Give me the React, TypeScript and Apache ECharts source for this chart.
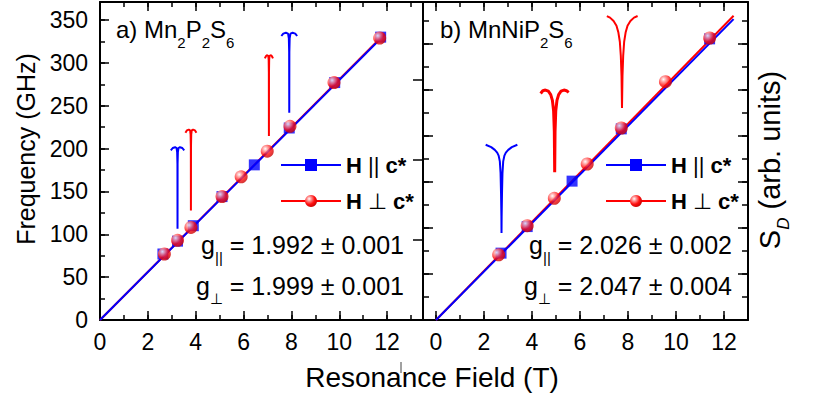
import React, { useEffect, useRef } from "react";
import * as echarts from "echarts";

const FONT = '"Liberation Sans", Arial, Helvetica, sans-serif';

// ---- tick labels ----
const fieldTickLabels = [0, 2, 4, 6, 8, 10, 12];
const freqTickLabels = [0, 50, 100, 150, 200, 250, 300, 350];

// ---- panel a) Mn2P2S6 : resonance field (T), frequency (GHz) ----
const aParField = [2.63, 3.24, 3.9, 5.1, 6.45, 7.91, 9.81, 11.73];
const aParFreq = [77, 92, 110, 144, 181, 224, 277, 330];
const aPerpField = [2.69, 3.24, 3.8, 5.1, 5.9, 6.99, 7.94, 9.78, 11.69];
const aPerpFreq = [77, 93, 108, 144, 167, 197, 226, 277, 329];
const aParFit = [[0, 0], [11.9, 333]];
const aPerpFit = [[0, 0], [11.9, 334]];

// ---- panel b) MnNiP2S6 ----
const bParField = [2.71, 3.8, 5.67, 7.72, 11.4];
const bParFreq = [78, 109, 162, 223, 328];
const bPerpField = [2.61, 3.8, 4.93, 6.3, 7.72, 9.56, 11.4];
const bPerpFreq = [76, 110, 142, 182, 224, 278, 329];
const bParFit = [[0, 0], [12.4, 351]];
const bPerpFit = [[0, 0], [12.4, 355]];

// ---- ESR spectra (field T, S_D arb. units) ----
const specA1Blue = [[2.96, 2.12], [3.04, 2.15], [3.14, 2.16], [3.2, 2.15], [3.225, 2.1], [3.237, 1.95], [3.24, 1.14], [3.243, 1.95], [3.255, 2.1], [3.28, 2.15], [3.34, 2.16], [3.44, 2.15], [3.52, 2.12]];
const specA1Red = [[3.57, 2.34], [3.63, 2.37], [3.71, 2.38], [3.765, 2.37], [3.787, 2.32], [3.797, 2.17], [3.8, 1.37], [3.803, 2.17], [3.813, 2.32], [3.835, 2.37], [3.89, 2.38], [3.97, 2.37], [4.03, 2.34]];
const specA2Red = [[6.89, 3.27], [6.94, 3.3], [6.99, 3.31], [7.035, 3.3], [7.05, 3.25], [7.057, 3.1], [7.06, 2.3], [7.063, 3.1], [7.07, 3.25], [7.085, 3.3], [7.13, 3.31], [7.18, 3.3], [7.23, 3.27]];
const specA2Blue = [[7.58, 3.55], [7.66, 3.58], [7.77, 3.59], [7.86, 3.58], [7.893, 3.52], [7.906, 3.35], [7.91, 2.59], [7.914, 3.35], [7.927, 3.52], [7.96, 3.58], [8.05, 3.59], [8.16, 3.58], [8.24, 3.55]];

const specB1Blue = [[2.07, 7.62], [2.3, 7.52], [2.45, 7.4], [2.55, 7.28], [2.61, 7.15], [2.66, 6.9], [2.69, 6.4], [2.71, 5.5], [2.725, 4.5], [2.73, 3.78], [2.735, 4.5], [2.75, 5.5], [2.77, 6.4], [2.8, 6.9], [2.85, 7.15], [2.91, 7.28], [3.01, 7.4], [3.16, 7.52], [3.39, 7.62]];
const specB2Red = [[4.36, 9.85], [4.45, 9.97], [4.56, 10.0], [4.68, 9.95], [4.78, 9.8], [4.85, 9.55], [4.9, 9.1], [4.93, 8.2], [4.945, 6.43], [4.96, 8.2], [4.99, 9.1], [5.04, 9.55], [5.11, 9.8], [5.21, 9.95], [5.33, 10.0], [5.44, 9.97], [5.53, 9.9]];
const specB3Red = [[7.12, 13.22], [7.25, 13.15], [7.4, 13.0], [7.52, 12.8], [7.6, 12.5], [7.66, 12.1], [7.7, 11.5], [7.73, 10.6], [7.75, 9.22], [7.77, 10.6], [7.8, 11.5], [7.84, 12.1], [7.9, 12.5], [7.98, 12.8], [8.1, 13.0], [8.25, 13.15], [8.4, 13.22]];

const BLUE = "#0000ff";
const RED = "#ff0000";
const redBall = {
  type: "radial", x: 0.35, y: 0.32, r: 0.75,
  colorStops: [
    { offset: 0, color: "#ffffff" },
    { offset: 0.25, color: "#ff9090" },
    { offset: 0.6, color: "#ff1010" },
    { offset: 1, color: "#c00000" },
  ],
};

const zip = (xs: number[], ys: number[]) => xs.map((x, i) => [x, ys[i]]);

function xAx(grid: number, pos: string, min: number, max: number, interval: number, len: number, labels: boolean, line: boolean) {
  return {
    type: "value", gridIndex: grid, position: pos, min, max, interval,
    axisLine: { show: line, onZero: false, lineStyle: { color: "#000", width: 2 } },
    axisTick: { show: true, inside: true, length: len, lineStyle: { color: "#000", width: 1.5 } },
    minorTick: { show: false }, splitLine: { show: false },
    axisLabel: labels
      ? { show: true, margin: 10, color: "#000", fontSize: 23, fontFamily: FONT,
          formatter: (v: number) => (fieldTickLabels.includes(v) ? String(v) : "") }
      : { show: false },
  };
}

function yAx(grid: number, pos: string, min: number, max: number, interval: number, len: number, labels: boolean, line: boolean, offset = 0, show = true) {
  return {
    type: "value", gridIndex: grid, position: pos, min, max, interval, offset, show,
    axisLine: { show: line, onZero: false, lineStyle: { color: "#000", width: 2 } },
    axisTick: { show: true, inside: true, length: len, lineStyle: { color: "#000", width: 1.5 } },
    minorTick: { show: false }, splitLine: { show: false },
    axisLabel: labels
      ? { show: true, margin: 12, color: "#000", fontSize: 23, fontFamily: FONT,
          formatter: (v: number) => (freqTickLabels.includes(v) ? String(v) : "") }
      : { show: false },
  };
}

const FREQ_MAX = 371;
const SD_A_MAX = 3.975;
const SD_B_MAX = 13.83;

const legendFormatter = (name: string) =>
  name.endsWith("∥") ? "{b|H} {n|||} {b|c*}" : "{b|H} {n|⊥} {b|c*}";
const legendText = {
  color: "#000", fontFamily: FONT, fontSize: 22, lineHeight: 24,
  rich: {
    b: { fontWeight: "bold", fontSize: 22, fontFamily: FONT, color: "#000", lineHeight: 24 },
    n: { fontSize: 22, fontFamily: FONT, color: "#000", lineHeight: 24 },
  },
};

const richMain = { fontSize: 24, fontFamily: FONT, lineHeight: 40, fill: "#000" };
const richSub = { fontSize: 15, fontFamily: FONT, lineHeight: 16, verticalAlign: "bottom", fill: "#000" };
const gMain = { fontSize: 25, fontFamily: FONT, lineHeight: 40, fill: "#000" };
const gSub = { fontSize: 15, fontFamily: FONT, lineHeight: 16, verticalAlign: "bottom", fill: "#000" };

function specSeries(data: number[][], color: string, xi: number, yi: number, width = 2) {
  return {
    type: "line", xAxisIndex: xi, yAxisIndex: yi, data, showSymbol: false, symbol: "none",
    lineStyle: { color, width }, silent: true, z: 2,
  };
}

const option = {
  animation: false,
  backgroundColor: "#ffffff",
  grid: [
    { left: 100, top: 2, width: 323, height: 318 },
    { left: 436, top: 2, width: 312, height: 318 },
  ],
  xAxis: [
    xAx(0, "bottom", 0, 13.5, 2, 9, true, true),
    xAx(0, "bottom", 0, 13.5, 1, 5, false, false),
    xAx(0, "top", 0, 13.5, 2, 9, false, true),
    xAx(0, "top", 0, 13.5, 1, 5, false, false),
    xAx(1, "bottom", 0, 13, 2, 9, true, true),
    xAx(1, "bottom", 0, 13, 1, 5, false, false),
    xAx(1, "top", 0, 13, 2, 9, false, true),
    xAx(1, "top", 0, 13, 1, 5, false, false),
  ],
  yAxis: [
    yAx(0, "left", 0, FREQ_MAX, 50, 9, true, true),
    yAx(0, "left", 0, FREQ_MAX, 25, 5, false, false),
    yAx(0, "right", 0, SD_A_MAX, 1, 10, false, true),
    yAx(1, "left", 0, FREQ_MAX, 50, 5, false, false, 0, false),
    yAx(1, "left", 0, SD_B_MAX, 2, 10, false, true, 13),
    yAx(1, "left", 0, SD_B_MAX, 1, 6, false, false, 13),
    yAx(1, "right", 0, SD_B_MAX, 2, 10, false, true),
    yAx(1, "right", 0, SD_B_MAX, 1, 6, false, false),
  ],
  legend: [
    {
      orient: "vertical", left: 280, top: 153, padding: 0, itemGap: 12,
      itemWidth: 60, itemHeight: 15, selectedMode: false,
      data: ["a∥", "a⊥"], formatter: legendFormatter, textStyle: legendText,
    },
    {
      orient: "vertical", left: 605, top: 153, padding: 0, itemGap: 12,
      itemWidth: 60, itemHeight: 15, selectedMode: false,
      data: ["b∥", "b⊥"], formatter: legendFormatter, textStyle: legendText,
    },
  ],
  series: [
    // panel a spectra
    specSeries(specA1Blue, BLUE, 0, 2),
    specSeries(specA1Red, RED, 0, 2),
    specSeries(specA2Red, RED, 0, 2),
    specSeries(specA2Blue, BLUE, 0, 2),
    // panel a fits
    { name: "a⊥", type: "line", xAxisIndex: 0, yAxisIndex: 0, data: aPerpFit, symbol: "circle", symbolSize: 12, showSymbol: false,
      itemStyle: { color: redBall }, lineStyle: { color: RED, width: 2 }, z: 3 },
    { name: "a∥", type: "line", xAxisIndex: 0, yAxisIndex: 0, data: aParFit, symbol: "rect", symbolSize: 12, showSymbol: false,
      itemStyle: { color: BLUE }, lineStyle: { color: BLUE, width: 2 }, z: 3 },
    // panel a points
    { name: "a∥ data", type: "scatter", xAxisIndex: 0, yAxisIndex: 0, data: zip(aParField, aParFreq), symbol: "rect", symbolSize: 11,
      itemStyle: { color: BLUE }, z: 4 },
    { name: "a⊥ data", type: "scatter", xAxisIndex: 0, yAxisIndex: 0, data: zip(aPerpField, aPerpFreq), symbol: "circle", symbolSize: 13,
      itemStyle: { color: redBall }, z: 4 },
    // panel b spectra
    specSeries(specB1Blue, BLUE, 4, 6),
    specSeries(specB2Red, RED, 4, 6, 3),
    specSeries(specB3Red, RED, 4, 6),
    // panel b fits
    { name: "b⊥", type: "line", xAxisIndex: 4, yAxisIndex: 3, data: bPerpFit, symbol: "circle", symbolSize: 12, showSymbol: false,
      itemStyle: { color: redBall }, lineStyle: { color: RED, width: 2 }, z: 3 },
    { name: "b∥", type: "line", xAxisIndex: 4, yAxisIndex: 3, data: bParFit, symbol: "rect", symbolSize: 12, showSymbol: false,
      itemStyle: { color: BLUE }, lineStyle: { color: BLUE, width: 2 }, z: 3 },
    // panel b points
    { name: "b∥ data", type: "scatter", xAxisIndex: 4, yAxisIndex: 3, data: zip(bParField, bParFreq), symbol: "rect", symbolSize: 11,
      itemStyle: { color: BLUE }, z: 4 },
    { name: "b⊥ data", type: "scatter", xAxisIndex: 4, yAxisIndex: 3, data: zip(bPerpField, bPerpFreq), symbol: "circle", symbolSize: 13,
      itemStyle: { color: redBall }, z: 4 },
  ],
  graphic: [
    // frame pieces between the panels' shared border and the right panel's x = 0
    { type: "line", shape: { x1: 422, y1: 2, x2: 437, y2: 2 }, style: { stroke: "#000", lineWidth: 2 }, silent: true },
    { type: "line", shape: { x1: 422, y1: 320, x2: 437, y2: 320 }, style: { stroke: "#000", lineWidth: 2 }, silent: true },
    // panel labels
    { type: "text", x: 116, y: 29.5, silent: true,
      style: { text: "{m|a) Mn}{s|2}{m|P}{s|2}{m|S}{s|6}", rich: { m: richMain, s: richSub }, align: "left", verticalAlign: "middle", fill: "#000" } },
    { type: "text", x: 440, y: 29.5, silent: true,
      style: { text: "{m|b) MnNiP}{s|2}{m|S}{s|6}", rich: { m: richMain, s: richSub }, align: "left", verticalAlign: "middle", fill: "#000" } },
    // g-factors
    { type: "text", x: 404, y: 244.5, silent: true,
      style: { text: "{m|g}{s|||}{m| = 1.992 ± 0.001}", rich: { m: gMain, s: gSub }, align: "right", verticalAlign: "middle", fill: "#000" } },
    { type: "text", x: 404, y: 286, silent: true,
      style: { text: "{m|g}{s|⊥}{m| = 1.999 ± 0.001}", rich: { m: gMain, s: gSub }, align: "right", verticalAlign: "middle", fill: "#000" } },
    { type: "text", x: 732, y: 244.5, silent: true,
      style: { text: "{m|g}{s|||}{m| = 2.026 ± 0.002}", rich: { m: gMain, s: gSub }, align: "right", verticalAlign: "middle", fill: "#000" } },
    { type: "text", x: 732, y: 286, silent: true,
      style: { text: "{m|g}{s|⊥}{m| = 2.047 ± 0.004}", rich: { m: gMain, s: gSub }, align: "right", verticalAlign: "middle", fill: "#000" } },
    // axis titles
    { type: "text", x: 26, y: 149, rotation: Math.PI / 2, silent: true,
      style: { text: "Frequency (GHz)", fontSize: 25, fontFamily: FONT, fill: "#000", align: "center", verticalAlign: "middle" } },
    { type: "text", x: 432, y: 377, silent: true,
      style: { text: "Resonance Field (T)", fontSize: 28, fontFamily: FONT, fill: "#000", align: "center", verticalAlign: "middle" } },
    { type: "text", x: 770, y: 160, rotation: Math.PI / 2, silent: true,
      style: {
        text: "{m|S}{d|D}{m| (arb. units)}",
        rich: {
          m: { fontSize: 29, fontFamily: FONT, lineHeight: 44, fill: "#000" },
          d: { fontSize: 17, fontFamily: FONT, fontStyle: "italic", lineHeight: 18, verticalAlign: "bottom", fill: "#000" },
        },
        align: "center", verticalAlign: "middle", fill: "#000",
      } },
    // small stray mark in the original figure
    { type: "line", shape: { x1: 401, y1: 362, x2: 401, y2: 373 }, style: { stroke: "#444", lineWidth: 1 }, silent: true },
  ],
};

export default function App() {
  const ref = useRef<HTMLDivElement>(null);
  useEffect(() => {
    if (!ref.current) return;
    const chart = echarts.init(ref.current, null, { renderer: "svg" });
    chart.setOption(option as any);
    return () => chart.dispose();
  }, []);
  return <div ref={ref} style={{ position: "fixed", left: 0, top: 0, width: 830, height: 416 }} />;
}
